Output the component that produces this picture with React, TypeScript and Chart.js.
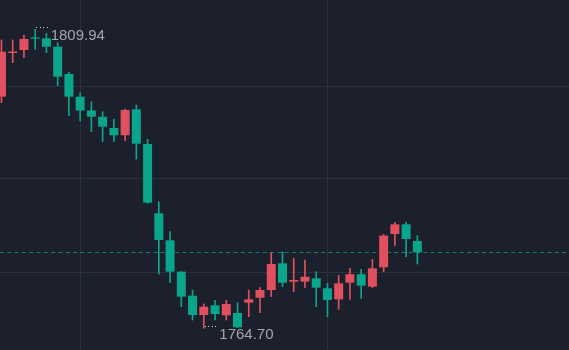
import React, { useEffect, useRef } from "react";
import { Chart, registerables } from "chart.js";

Chart.register(...registerables);

// OHLC data (one candle per index)
const opens = [
  1799.74, 1806.35, 1806.8, 1808.7, 1808.57, 1807.3, 1803.17, 1799.74, 1797.65, 1796.71,
  1795.0, 1793.9, 1797.83, 1792.58, 1782.1, 1778.01, 1773.26, 1769.63, 1766.71, 1768.18,
  1766.66, 1767.01, 1768.57, 1769.32, 1770.49, 1774.53, 1771.75, 1771.75, 1772.26, 1770.75,
  1769.08, 1771.59, 1772.87, 1770.99, 1773.92, 1778.96, 1780.43, 1777.9,
];
const highs = [
  1808.32, 1808.32, 1809.07, 1809.94, 1809.33, 1807.91, 1803.43, 1800.34, 1798.98, 1797.47,
  1796.36, 1797.88, 1798.48, 1793.29, 1783.85, 1779.31, 1773.3, 1770.49, 1768.37, 1768.93,
  1768.93, 1768.57, 1770.49, 1770.84, 1776.13, 1776.29, 1775.29, 1775.03, 1773.26, 1771.5,
  1772.71, 1773.77, 1773.62, 1775.13, 1778.92, 1780.73, 1780.73, 1778.71,
];
const lows = [
  1798.83, 1804.88, 1805.64, 1806.91, 1806.4, 1801.4, 1796.86, 1796.06, 1794.44, 1792.93,
  1792.93, 1793.08, 1790.31, 1783.6, 1772.91, 1771.59, 1767.96, 1765.95, 1764.7, 1765.95,
  1765.95, 1764.8, 1766.45, 1767.06, 1769.48, 1770.99, 1770.23, 1770.84, 1767.96, 1766.45,
  1767.57, 1769.08, 1769.23, 1770.84, 1773.26, 1777.25, 1775.53, 1774.42,
];
const closes = [
  1806.55, 1806.58, 1808.47, 1808.51, 1807.3, 1802.76, 1799.74, 1797.65, 1796.71, 1795.2,
  1793.9, 1797.73, 1792.63, 1783.7, 1778.06, 1773.26, 1769.48, 1766.71, 1767.96, 1766.86,
  1768.37, 1764.85, 1769.08, 1770.49, 1774.42, 1771.59, 1772.0, 1772.5, 1770.84, 1768.98,
  1771.5, 1772.87, 1771.14, 1773.77, 1778.71, 1780.43, 1778.21, 1776.19,
];

// gridline positions
const yGridValues = [1801.21, 1787.29, 1773.21];
const xGridIndices = [7, 29];

const UP = "#e0505e";
const DOWN = "#0aa58a";
const BG = "#1b202c";
const GRID = "#2a303c";

export default function App() {
  const ref = useRef<HTMLCanvasElement>(null);

  useEffect(() => {
    if (!ref.current) return;
    const idx = opens.map((_, i) => i);
    const colors = idx.map((i) => (closes[i] >= opens[i] ? UP : DOWN));

    const hiVal = Math.max(...highs);
    const loVal = Math.min(...lows);
    const hiIdx = highs.indexOf(hiVal);
    const loIdx = lows.indexOf(loVal);

    const overlay = {
      id: "overlay",
      beforeDatasetsDraw(chart: any) {
        const ctx = chart.ctx;
        const ys = chart.scales.y;
        const area = chart.chartArea;
        const last = closes[closes.length - 1];
        const py = Math.round(ys.getPixelForValue(last)) + 0.5;
        ctx.save();
        ctx.strokeStyle = "rgba(10,160,134,0.75)";
        ctx.lineWidth = 1;
        ctx.setLineDash([4, 3.3]);
        ctx.beginPath();
        ctx.moveTo(area.left, py);
        ctx.lineTo(area.right, py);
        ctx.stroke();
        ctx.restore();
      },
      afterDatasetsDraw(chart: any) {
        const ctx = chart.ctx;
        const xs = chart.scales.x;
        const ys = chart.scales.y;
        ctx.save();
        const drawLabel = (i: number, v: number) => {
          const cx = xs.getPixelForValue(i);
          const cy = ys.getPixelForValue(v);
          ctx.fillStyle = "#c9cdd5";
          for (let k = 0; k < 4; k++) {
            ctx.fillRect(Math.round(cx + 1 + 3.5 * k), Math.round(cy - 2), 1, 1);
          }
          ctx.fillStyle = "#a2a6b0";
          ctx.font = '15px "Liberation Sans", Arial, sans-serif';
          ctx.textAlign = "left";
          ctx.textBaseline = "alphabetic";
          ctx.fillText(v.toFixed(2), cx + 15.5, cy + 10.3);
        };
        drawLabel(hiIdx, hiVal);
        drawLabel(loIdx, loVal);
        ctx.restore();
      },
    };

    const chart = new Chart(ref.current, {
      type: "bar",
      data: {
        datasets: [
          {
            label: "wick",
            data: idx.map((i) => ({ x: i, y: [lows[i], highs[i]] })) as any,
            backgroundColor: colors,
            barThickness: 1,
            grouped: false,
            order: 2,
          } as any,
          {
            label: "body",
            data: idx.map((i) => ({ x: i, y: [opens[i], closes[i]] })) as any,
            backgroundColor: colors,
            barPercentage: 1,
            categoryPercentage: 0.8,
            grouped: false,
            order: 1,
          } as any,
        ],
      },
      options: {
        animation: false,
        responsive: false,
        maintainAspectRatio: false,
        layout: { padding: 0 },
        plugins: {
          legend: { display: false },
          tooltip: { enabled: false },
        },
        scales: {
          x: {
            type: "linear",
            min: -0.13,
            max: 50.49,
            offset: false,
            afterBuildTicks: (s: any) => {
              s.ticks = xGridIndices.map((v) => ({ value: v }));
            },
            ticks: { display: false },
            grid: { color: GRID, drawTicks: false, offset: false },
            border: { display: false },
          },
          y: {
            type: "linear",
            min: 1761.41,
            max: 1814.37,
            afterBuildTicks: (s: any) => {
              s.ticks = yGridValues.map((v) => ({ value: v }));
            },
            ticks: { display: false },
            grid: { color: GRID, drawTicks: false },
            border: { display: false },
          },
        },
      } as any,
      plugins: [overlay],
    });
    return () => chart.destroy();
  }, []);

  return (
    <div
      style={{
        position: "fixed",
        left: 0,
        top: 0,
        width: 569,
        height: 350,
        background: BG,
      }}
    >
      <canvas ref={ref} width={569} height={350} style={{ display: "block" }} />
    </div>
  );
}
